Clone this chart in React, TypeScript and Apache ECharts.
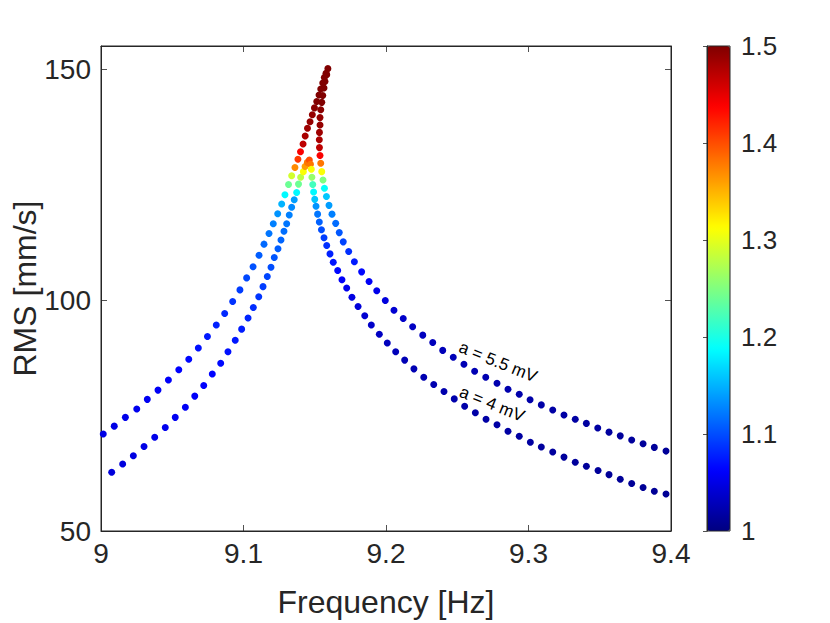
import React, { useEffect, useRef } from 'react';
import * as echarts from 'echarts';

// ---- data: a = 5.5 mV (upper curve) ----
const freqA55Left = [9.0016, 9.0093, 9.0171, 9.0251, 9.0325, 9.04, 9.0473, 9.0546, 9.0616, 9.0683, 9.0747, 9.0809, 9.0868, 9.0924, 9.0975, 9.1022, 9.1067, 9.1109, 9.1144, 9.1179, 9.1209, 9.124, 9.1268, 9.1291, 9.1316, 9.1338, 9.1361, 9.1382, 9.14, 9.1418, 9.1433, 9.1449, 9.1467, 9.1483, 9.1498, 9.1514, 9.153, 9.1542, 9.1556, 9.1567, 9.1579, 9.1592];
const rmsA55Left = [71.0, 72.7, 74.6, 76.4, 78.5, 80.5, 82.7, 84.9, 87.2, 89.6, 92.1, 94.6, 97.1, 99.7, 102.2, 104.8, 107.2, 109.7, 112.1, 114.4, 116.5, 118.7, 120.8, 122.8, 125.0, 126.9, 128.7, 130.5, 132.1, 133.8, 135.5, 137.2, 138.6, 140.1, 141.6, 143.0, 144.4, 145.7, 147.0, 148.2, 149.1, 150.1];
const ratioA55Left = [1.05, 1.05, 1.052, 1.054, 1.056, 1.058, 1.06, 1.063, 1.066, 1.07, 1.074, 1.078, 1.082, 1.087, 1.092, 1.097, 1.102, 1.108, 1.114, 1.12, 1.125, 1.135, 1.15, 1.185, 1.24, 1.29, 1.37, 1.41, 1.44, 1.47, 1.48, 1.485, 1.49, 1.49, 1.495, 1.5, 1.5, 1.5, 1.5, 1.5, 1.5, 1.5];
const freqA55Right = [9.1584, 9.1572, 9.1565, 9.1556, 9.1549, 9.1542, 9.1537, 9.1537, 9.1533, 9.1532, 9.1533, 9.1537, 9.1542, 9.1549, 9.1558, 9.1568, 9.1582, 9.16, 9.1621, 9.1647, 9.1672, 9.17, 9.1738, 9.1778, 9.1829, 9.1881, 9.1935, 9.1995, 9.2056, 9.2121, 9.2187, 9.2258, 9.2328, 9.2398, 9.2472, 9.2547, 9.2622, 9.27, 9.2779, 9.2856, 9.2935, 9.3011, 9.309, 9.317, 9.3249, 9.3328, 9.3406, 9.3486, 9.3565, 9.3644, 9.3724, 9.3804, 9.3883, 9.3965];
const rmsA55Right = [148.8, 147.3, 145.9, 144.3, 142.8, 141.2, 139.5, 137.9, 136.3, 134.7, 133.0, 131.3, 129.6, 127.8, 126.0, 124.2, 122.4, 120.5, 118.6, 116.6, 114.6, 112.6, 110.5, 108.3, 106.1, 104.0, 102.0, 99.9, 97.8, 96.0, 94.2, 92.4, 90.8, 89.1, 87.6, 86.1, 84.6, 83.3, 82.0, 80.7, 79.6, 78.4, 77.3, 76.2, 75.1, 74.2, 73.3, 72.3, 71.4, 70.6, 69.7, 68.9, 68.1, 67.3];
const ratioA55Right = [1.5, 1.5, 1.5, 1.5, 1.5, 1.495, 1.49, 1.49, 1.485, 1.48, 1.47, 1.44, 1.38, 1.31, 1.25, 1.19, 1.16, 1.14, 1.125, 1.115, 1.105, 1.095, 1.085, 1.075, 1.066, 1.058, 1.052, 1.046, 1.04, 1.036, 1.033, 1.031, 1.029, 1.028, 1.027, 1.026, 1.025, 1.024, 1.023, 1.022, 1.021, 1.02, 1.019, 1.018, 1.018, 1.017, 1.016, 1.016, 1.015, 1.014, 1.014, 1.013, 1.013, 1.012];

// ---- data: a = 4 mV (lower curve) ----
const freqA4Left = [9.0075, 9.0152, 9.0227, 9.0302, 9.0377, 9.0451, 9.0521, 9.0592, 9.0658, 9.0721, 9.0781, 9.084, 9.0891, 9.0942, 9.0987, 9.1032, 9.1069, 9.1107, 9.1137, 9.1167, 9.1193, 9.1216, 9.1242, 9.1263, 9.1284, 9.1303, 9.1321, 9.1338, 9.1356, 9.1373, 9.1386, 9.1401, 9.142, 9.1432, 9.1448, 9.1462];
const rmsA4Left = [62.7, 64.5, 66.3, 68.3, 70.3, 72.4, 74.6, 76.8, 79.2, 81.5, 84.0, 86.3, 88.8, 91.3, 93.7, 96.1, 98.4, 100.7, 102.9, 105.1, 107.1, 109.2, 111.1, 113.0, 114.9, 116.5, 118.4, 120.1, 121.7, 123.3, 125.1, 126.6, 127.8, 128.9, 129.8, 130.3];
const ratioA4Left = [1.045, 1.046, 1.048, 1.05, 1.052, 1.054, 1.056, 1.058, 1.06, 1.062, 1.064, 1.067, 1.07, 1.073, 1.076, 1.08, 1.084, 1.088, 1.092, 1.096, 1.1, 1.104, 1.108, 1.112, 1.116, 1.12, 1.125, 1.13, 1.14, 1.185, 1.24, 1.28, 1.31, 1.36, 1.38, 1.4];
const freqA4Right = [9.147, 9.1476, 9.148, 9.1486, 9.1492, 9.15, 9.1509, 9.152, 9.1532, 9.1547, 9.1565, 9.1584, 9.1607, 9.163, 9.1661, 9.1691, 9.1724, 9.1761, 9.1804, 9.1851, 9.1897, 9.1953, 9.2009, 9.2068, 9.2131, 9.2196, 9.2265, 9.2335, 9.2407, 9.2479, 9.2552, 9.2627, 9.2702, 9.2779, 9.2856, 9.2935, 9.3013, 9.309, 9.317, 9.3249, 9.3328, 9.3406, 9.3488, 9.3565, 9.3644, 9.3724, 9.3804, 9.3883, 9.3965];
const rmsA4Right = [129.4, 128.3, 126.6, 125.0, 123.4, 121.8, 120.3, 118.6, 116.9, 115.2, 113.5, 111.8, 110.0, 108.2, 106.4, 104.4, 102.6, 100.6, 98.6, 96.6, 94.6, 92.6, 90.7, 88.8, 87.0, 85.1, 83.3, 81.7, 80.2, 78.6, 77.0, 75.6, 74.2, 73.0, 71.6, 70.5, 69.2, 68.2, 67.1, 66.0, 64.9, 64.0, 63.1, 62.2, 61.2, 60.3, 59.4, 58.6, 58.0];
const ratioA4Right = [1.38, 1.31, 1.26, 1.22, 1.185, 1.16, 1.135, 1.12, 1.11, 1.1, 1.092, 1.085, 1.078, 1.072, 1.066, 1.06, 1.054, 1.048, 1.044, 1.04, 1.036, 1.033, 1.03, 1.028, 1.026, 1.025, 1.024, 1.023, 1.022, 1.021, 1.02, 1.019, 1.018, 1.018, 1.017, 1.016, 1.016, 1.015, 1.015, 1.014, 1.014, 1.013, 1.013, 1.012, 1.012, 1.012, 1.011, 1.011, 1.011];

// ---- axes / labels ----
const xLabel = 'Frequency [Hz]';
const yLabel = 'RMS [mm/s]';
const curveLabels = ['a = 5.5 mV', 'a = 4 mV'];
const colorbarRange = [1, 1.5];
const jetColors = ['#000080', '#0000ff', '#0080ff', '#00ffff', '#80ff80', '#ffff00', '#ff8000', '#ff0000', '#800000'];

const FONT = '"Liberation Sans", Arial, Helvetica, sans-serif';
const INK = '#262626';

function build(f: number[], r: number[], v: number[]) {
  return f.map((x, i) => [x, r[i], v[i]]);
}

export default function App() {
  const ref = useRef<HTMLDivElement>(null);
  useEffect(() => {
    const chart = echarts.init(ref.current!, null, { renderer: 'svg' });
    const a55 = build(freqA55Left.concat(freqA55Right), rmsA55Left.concat(rmsA55Right), ratioA55Left.concat(ratioA55Right));
    const a4 = build(freqA4Left.concat(freqA4Right), rmsA4Left.concat(rmsA4Right), ratioA4Left.concat(ratioA4Right));
    const tickStyle = { color: INK, width: 0.8 };
    const lineStyle = { color: INK, width: 1 };
    chart.setOption({
      animation: false,
      backgroundColor: '#ffffff',
      textStyle: { fontFamily: FONT },
      grid: [
        { left: 101, top: 46, width: 570, height: 485, show: true, borderColor: INK, borderWidth: 1, backgroundColor: 'transparent', outerBoundsMode: 'none', containLabel: false },
        { left: 707, top: 46, width: 23, height: 485, show: true, borderColor: INK, borderWidth: 1, backgroundColor: 'transparent', z: 10, outerBoundsMode: 'none', containLabel: false },
      ],
      xAxis: [
        {
          gridIndex: 0, type: 'value', min: 9, max: 9.4, interval: 0.1, position: 'bottom',
          axisLine: { show: true, lineStyle }, splitLine: { show: false },
          axisTick: { show: true, inside: true, length: 6, lineStyle: tickStyle },
          axisLabel: { fontSize: 28, color: INK, margin: 8, fontFamily: FONT },
          name: xLabel, nameLocation: 'middle', nameGap: 55, nameMoveOverlap: false,
          nameTextStyle: { fontSize: 32, color: INK, fontFamily: FONT },
        },
        {
          gridIndex: 0, type: 'value', min: 9, max: 9.4, interval: 0.1, position: 'top',
          axisLine: { show: true, lineStyle }, splitLine: { show: false },
          axisTick: { show: true, inside: true, length: 6, lineStyle: tickStyle },
          axisLabel: { show: false },
        },
        { gridIndex: 1, type: 'value', min: 0, max: 1, show: false },
      ],
      yAxis: [
        {
          gridIndex: 0, type: 'value', min: 50, max: 155, interval: 50, position: 'left',
          axisLine: { show: true, lineStyle }, splitLine: { show: false },
          axisTick: { show: true, inside: true, length: 6, lineStyle: tickStyle },
          axisLabel: { fontSize: 28, color: INK, margin: 10, fontFamily: FONT, showMaxLabel: false },
          name: yLabel, nameLocation: 'middle', nameGap: 60, nameMoveOverlap: false,
          nameTextStyle: { fontSize: 32, color: INK, fontFamily: FONT },
        },
        {
          gridIndex: 0, type: 'value', min: 50, max: 155, interval: 50, position: 'right',
          axisLine: { show: true, lineStyle }, splitLine: { show: false },
          axisTick: { show: true, inside: true, length: 6, lineStyle: tickStyle },
          axisLabel: { show: false },
        },
        {
          gridIndex: 1, type: 'value', min: colorbarRange[0], max: colorbarRange[1], interval: 0.1, position: 'right', z: 10,
          axisLine: { show: true, lineStyle }, splitLine: { show: false },
          axisTick: { show: true, inside: true, length: 4, lineStyle: tickStyle },
          axisLabel: { fontSize: 26, color: INK, margin: 11, fontFamily: FONT },
        },
      ],
      visualMap: {
        type: 'continuous', min: colorbarRange[0], max: colorbarRange[1], dimension: 2, seriesIndex: [0, 1],
        inRange: { color: jetColors }, calculable: false, show: true, orient: 'vertical',
        left: 707, top: 46, itemWidth: 23, itemHeight: 485, padding: 0, hoverLink: false,
      },
      series: [
        { type: 'scatter', xAxisIndex: 0, yAxisIndex: 0, data: a55, symbolSize: 7, itemStyle: { opacity: 1 } },
        { type: 'scatter', xAxisIndex: 0, yAxisIndex: 0, data: a4, symbolSize: 7, itemStyle: { opacity: 1 } },
      ],
      graphic: [
        {
          type: 'text', x: 498, y: 362, rotation: (-22 * Math.PI) / 180,
          style: { text: curveLabels[0], fontSize: 17, fill: '#000', fontFamily: FONT, align: 'center', verticalAlign: 'middle' },
        },
        {
          type: 'text', x: 492, y: 404, rotation: (-22 * Math.PI) / 180,
          style: { text: curveLabels[1], fontSize: 17, fill: '#000', fontFamily: FONT, align: 'center', verticalAlign: 'middle' },
        },
      ],
    });
    return () => chart.dispose();
  }, []);
  return (
    <div
      ref={ref}
      style={{ position: 'fixed', left: 0, top: 0, width: 830, height: 623, background: '#fff' }}
    />
  );
}
